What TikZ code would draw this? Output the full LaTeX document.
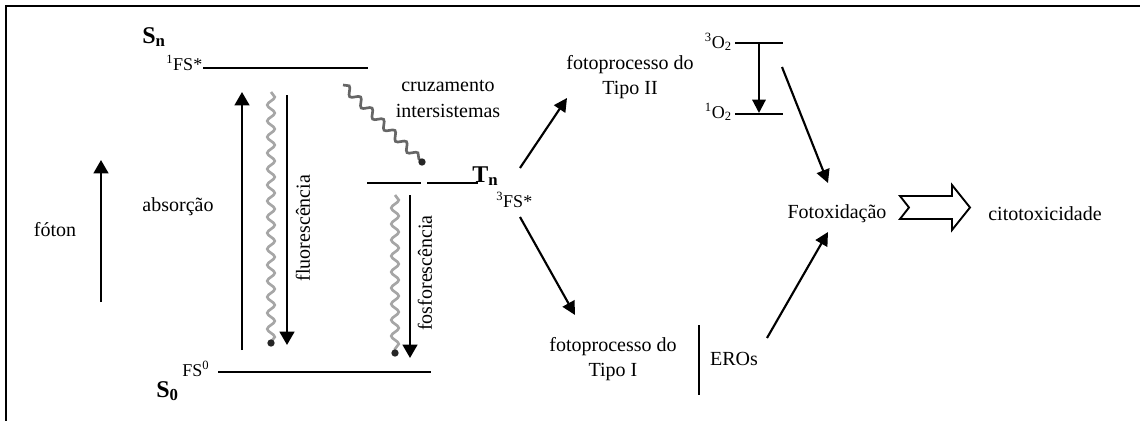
\documentclass[tikz,border=0pt]{standalone}
\usepackage{fontspec}
\setmainfont{Liberation Serif}
\usetikzlibrary{arrows.meta,decorations.pathmorphing}
\begin{document}
\begin{tikzpicture}[x=0.75pt,y=-0.75pt,
 lbl/.style={inner sep=0pt,font=\fontsize{15}{19}\selectfont},
 sm/.style={inner sep=0pt,font=\fontsize{13.5}{16}\selectfont},
 big/.style={inner sep=0pt,font=\fontsize{18}{20}\selectfont\bfseries},
 level/.style={line width=1.5pt},
 arr/.style={line width=1.8pt,-{Triangle[length=10pt,width=11pt]}},
 darr/.style={line width=1.6pt,-{Triangle[length=10pt,width=10pt]}},
 wave/.style={draw=gray!70,line width=2pt,decorate,decoration={snake,amplitude=2.8pt,segment length=12pt}},
 blob/.style={fill=black!85,circle,inner sep=0pt,minimum size=5.5pt},
]
\useasboundingbox (0,0) rectangle (1140,421);
% frame
\draw[line width=1.5pt] (6,421) -- (6,6) -- (1140,6);

% labels
\node[big,anchor=base west] (sn) at (142,43) {S\textsubscript{n}};
\node[sm,anchor=base west] (fs1) at (166,70) {\textsuperscript{1}FS*};
\node[big,anchor=base west] (s0) at (156,397) {S\textsubscript{0}};
\node[sm,anchor=base west] (fs0) at (182,376) {FS\textsuperscript{0}};
\node[big,anchor=base west] (tn) at (472,182) {T\textsubscript{n}};
\node[sm,anchor=base west] (fs3) at (496,207) {\textsuperscript{3}FS*};
\node[lbl] (foton) at (55,230) {fóton};
\node[lbl] (abs) at (178,207) {absorção};
\node[lbl,rotate=90] (fluo) at (303,228) {fluorescência};
\node[lbl,rotate=90] (fosf) at (425,273) {fosforescência};
\node[lbl,align=center] (isc) at (448,99) {cruzamento\\intersistemas};
\node[lbl,align=center] (t2) at (630,77) {fotoprocesso do\\Tipo II};
\node[lbl,align=center] (t1) at (613,359) {fotoprocesso do\\Tipo I};
\node[lbl] (eros) at (734,359) {EROs};
\node[sm,anchor=base east] (o3) at (732,48) {\textsuperscript{3}O\textsubscript{2}};
\node[sm,anchor=base east] (o1) at (732,118) {\textsuperscript{1}O\textsubscript{2}};
\node[lbl] (fox) at (837,214) {Fotoxidação};
\node[lbl] (cito) at (1045,214) {citotoxicidade};

% energy levels
\draw[level] (203,68) -- (368,68);
\draw[level] (218,372) -- (431,372);
\draw[level] (367,183) -- (421,183);
\draw[level] (427,183) -- (478,183);
\draw[level] (735,43) -- (783,43);
\draw[level] (735,114) -- (783,114);
\draw[level] (699,325) -- (699,395);

% coordinates
\coordinate (fa) at (101,302); \coordinate (fb) at (101,160);
\coordinate (aa) at (242,350); \coordinate (ab) at (242,92);
\coordinate (la) at (287,95);  \coordinate (lb) at (287,345);
\coordinate (pa) at (410,195); \coordinate (pb) at (410,358);
\coordinate (w1a) at (271,92); \coordinate (w1b) at (271,343);
\coordinate (w2a) at (395,195); \coordinate (w2b) at (395,353);
\coordinate (w3a) at (343,85); \coordinate (w3b) at (422,162);
\coordinate (t2a) at (520,168); \coordinate (t2b) at (567,98);
\coordinate (t1a) at (520,217); \coordinate (t1b) at (575,315);
\coordinate (oa) at (759,43); \coordinate (ob) at (759,113);
\coordinate (xa) at (782,67); \coordinate (xb) at (828,183);
\coordinate (ea) at (767,338); \coordinate (eb) at (828,232);

% straight arrows
\draw[arr] (fa) -- (fb);
\draw[arr] (aa) -- (ab);
\draw[arr] (la) -- (lb);
\draw[arr] (pa) -- (pb);
\draw[darr] (t2a) -- (t2b);
\draw[darr] (t1a) -- (t1b);
\draw[darr] (oa) -- (ob);
\draw[darr] (xa) -- (xb);
\draw[darr] (ea) -- (eb);

% wavy lines
\draw[wave] (w1a) -- (w1b);
\node[blob] at (w1b) {};
\draw[wave] (w2a) -- (w2b);
\node[blob] at (w2b) {};
\draw[wave,draw=gray!80!black] (w3a) -- (w3b);
\node[blob] at (w3b) {};

% hollow arrow
\draw[line width=1.4pt,line join=miter] (900,196) -- (952,196) -- (952,185) -- (970,207.5) -- (952,230) -- (952,219) -- (900,219) -- (909,207.5) -- cycle;
\end{tikzpicture}
\end{document}
